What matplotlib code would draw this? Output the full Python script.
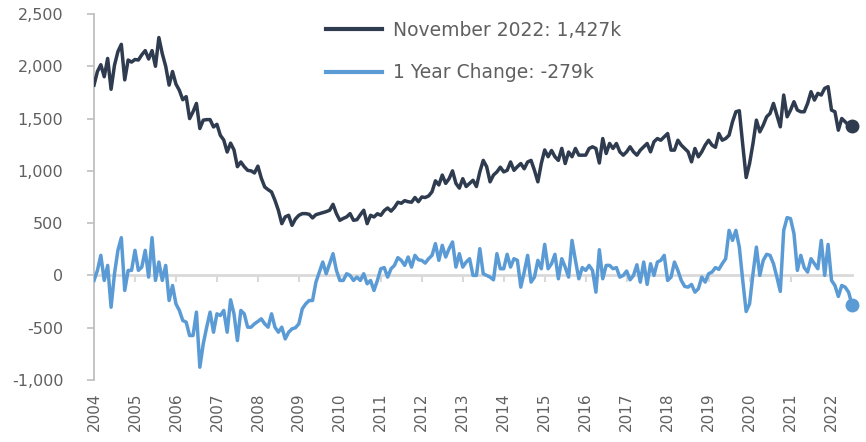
import matplotlib
matplotlib.use('Agg')
import matplotlib.pyplot as plt
from matplotlib.ticker import FuncFormatter
import numpy as np

# ---- data (thousands) ----
years = [str(y) for y in range(2004, 2023)]

level = [
    1820, 1950, 2015, 1900, 2075, 1780, 2010, 2140, 2210, 1870,
    2060, 2040, 2065, 2060, 2110, 2150, 2070, 2150, 2000, 2275,
    2120, 2000, 1820, 1950, 1830, 1770, 1680, 1710, 1500, 1565,
    1645, 1405, 1485, 1490, 1490, 1420, 1445, 1340, 1295, 1180,
    1265, 1200, 1040, 1085, 1040, 1005, 1000, 980, 1045, 930,
    846, 820, 798, 718, 623, 495, 560, 575, 479, 540,
    575, 591, 591, 585, 550, 581, 591, 600, 610, 623,
    680, 591, 527, 545, 560, 591, 527, 533, 580, 623,
    495, 575, 559, 590, 575, 620, 645, 615, 650, 700,
    690, 715, 705, 700, 745, 705, 750, 745, 760, 800,
    905, 865, 960, 880, 925, 1000, 880, 835, 925, 850,
    880, 910, 850, 990, 1100, 1040, 895, 960, 990, 1035,
    990, 1005, 1085, 1005, 1040, 1070, 1020, 1085, 1100, 1005,
    895, 1070, 1200, 1135, 1195, 1135, 1100, 1215, 1070, 1180,
    1135, 1214, 1150, 1150, 1150, 1214, 1230, 1214, 1075, 1309,
    1166, 1262, 1214, 1262, 1182, 1150, 1182, 1230, 1182, 1150,
    1198, 1230, 1262, 1182, 1278, 1309, 1293, 1325, 1357, 1198,
    1198, 1293, 1246, 1214, 1182, 1086, 1214, 1134, 1182, 1246,
    1293, 1246, 1225, 1357, 1293, 1309, 1341, 1469, 1565, 1575,
    1250, 936, 1070, 1262, 1485, 1373, 1437, 1517, 1549, 1645,
    1533, 1421, 1725, 1517, 1581, 1661, 1581, 1565, 1565, 1645,
    1757, 1677, 1741, 1725, 1789, 1805, 1581, 1565, 1389, 1501,
    1469, 1437, 1427,
]

change = [
    -48, 48, 192, -48, 96, -304, 16, 240, 361, -144,
    48, 48, 240, 48, 80, 240, -16, 361, -48, 128,
    -48, 96, -240, -96, -272, -335, -431, -447, -575, -575,
    -351, -878, -654, -495, -351, -543, -367, -383, -335, -543,
    -233, -367, -623, -335, -367, -495, -495, -463, -440, -415,
    -463, -495, -367, -495, -543, -495, -607, -543, -511, -500,
    -463, -319, -272, -240, -240, -64, 32, 128, 16, 112,
    208, 48, -48, -48, 16, 0, -48, -16, -48, 16,
    -80, -48, -144, -48, 64, 75, -16, 64, 96, 170,
    144, 96, 176, 80, 192, 150, 144, 118, 160, 192,
    304, 144, 288, 176, 256, 320, 80, 208, 80, 128,
    160, 0, 0, 256, 16, 0, -16, -42, 208, 64,
    64, 202, 80, 160, 144, -112, 32, 192, -64, -16,
    144, 64, 297, 64, 112, 202, -32, 160, 80, -16,
    335, 144, -32, 75, 48, 96, 48, -160, 246, -32,
    96, 96, 64, 75, -16, 0, 42, -42, 0, 102,
    -64, 128, -86, 112, 0, 128, 144, 192, -48, -16,
    128, 48, -48, -105, -112, -86, -160, -128, -16, -64,
    16, 32, 75, 58, 112, 160, 431, 335, 431, 271,
    -48, -345, -272, 16, 271, 0, 144, 202, 192, 112,
    -16, -153, 431, 553, 543, 400, 48, 192, 75, 32,
    160, 112, 64, 335, 0, 297, -48, -96, -201, -96,
    -112, -160, -279,
]

level_label = "November 2022: 1,427k"
change_label = "1 Year Change: -279k"

DARK = '#2F3B4F'
BLUE = '#5B9BD5'
TEXT = '#606060'

plt.rcParams['font.family'] = ['DejaVu Sans']

fig = plt.figure(figsize=(8.66, 4.42), dpi=100)
W, H = 866, 442
ax = fig.add_axes([94 / W, 1 - 380 / H, (852 - 94) / W, (380 - 14) / H])

x = np.arange(len(level))
ax.plot(x, level, color=DARK, lw=2.5, solid_joinstyle='round', label=level_label, zorder=3)
ax.plot(x, change, color=BLUE, lw=2.5, solid_joinstyle='round', label=change_label, zorder=3)
ax.plot(x[-1], level[-1], 'o', color=DARK, ms=9, clip_on=False, zorder=4)
ax.plot(x[-1], change[-1], 'o', color=BLUE, ms=9, clip_on=False, zorder=4)

ax.set_xlim(0, len(level) - 1)
ax.set_ylim(-1000, 2500)
ax.set_yticks(range(-1000, 2501, 500))
ax.yaxis.set_major_formatter(FuncFormatter(lambda v, p: f"{int(v):,}"))
ax.tick_params(axis='y', direction='out', length=5, width=1.2, color='#BFBFBF',
               labelcolor=TEXT, labelsize=11.5, pad=17)

for s in ['top', 'right']:
    ax.spines[s].set_visible(False)
ax.spines['left'].set_color('#BFBFBF')
ax.spines['left'].set_linewidth(1.3)
ax.spines['bottom'].set_position(('data', 0))
ax.spines['bottom'].set_color('#D9D9D9')
ax.spines['bottom'].set_linewidth(2)
ax.spines['bottom'].set_zorder(1)

tick_pos = np.arange(0, len(level), 12)
ax.set_xticks(tick_pos)
ax.tick_params(axis='x', direction='out', length=5, width=1.5, color='#D9D9D9',
               labelbottom=False)

sec = ax.secondary_xaxis(0)
sec.set_xticks(tick_pos, labels=years[:len(tick_pos)])
sec.tick_params(axis='x', length=0, pad=9, labelrotation=90, labelcolor=TEXT, labelsize=11)
sec.spines['bottom'].set_visible(False)
for lbl in sec.get_xticklabels():
    lbl.set_verticalalignment('top')

leg = ax.legend(loc='upper left', bbox_to_anchor=(326 / W, 1 - 21 / H),
                bbox_transform=fig.transFigure, frameon=False, fontsize=13.5,
                handlelength=3.0, handletextpad=0.55, labelspacing=1.25,
                borderpad=0, borderaxespad=0)
for t in leg.get_texts():
    t.set_color(TEXT)
for h in leg.get_lines():
    h.set_linewidth(3)

fig.savefig('out.png', dpi=100)
